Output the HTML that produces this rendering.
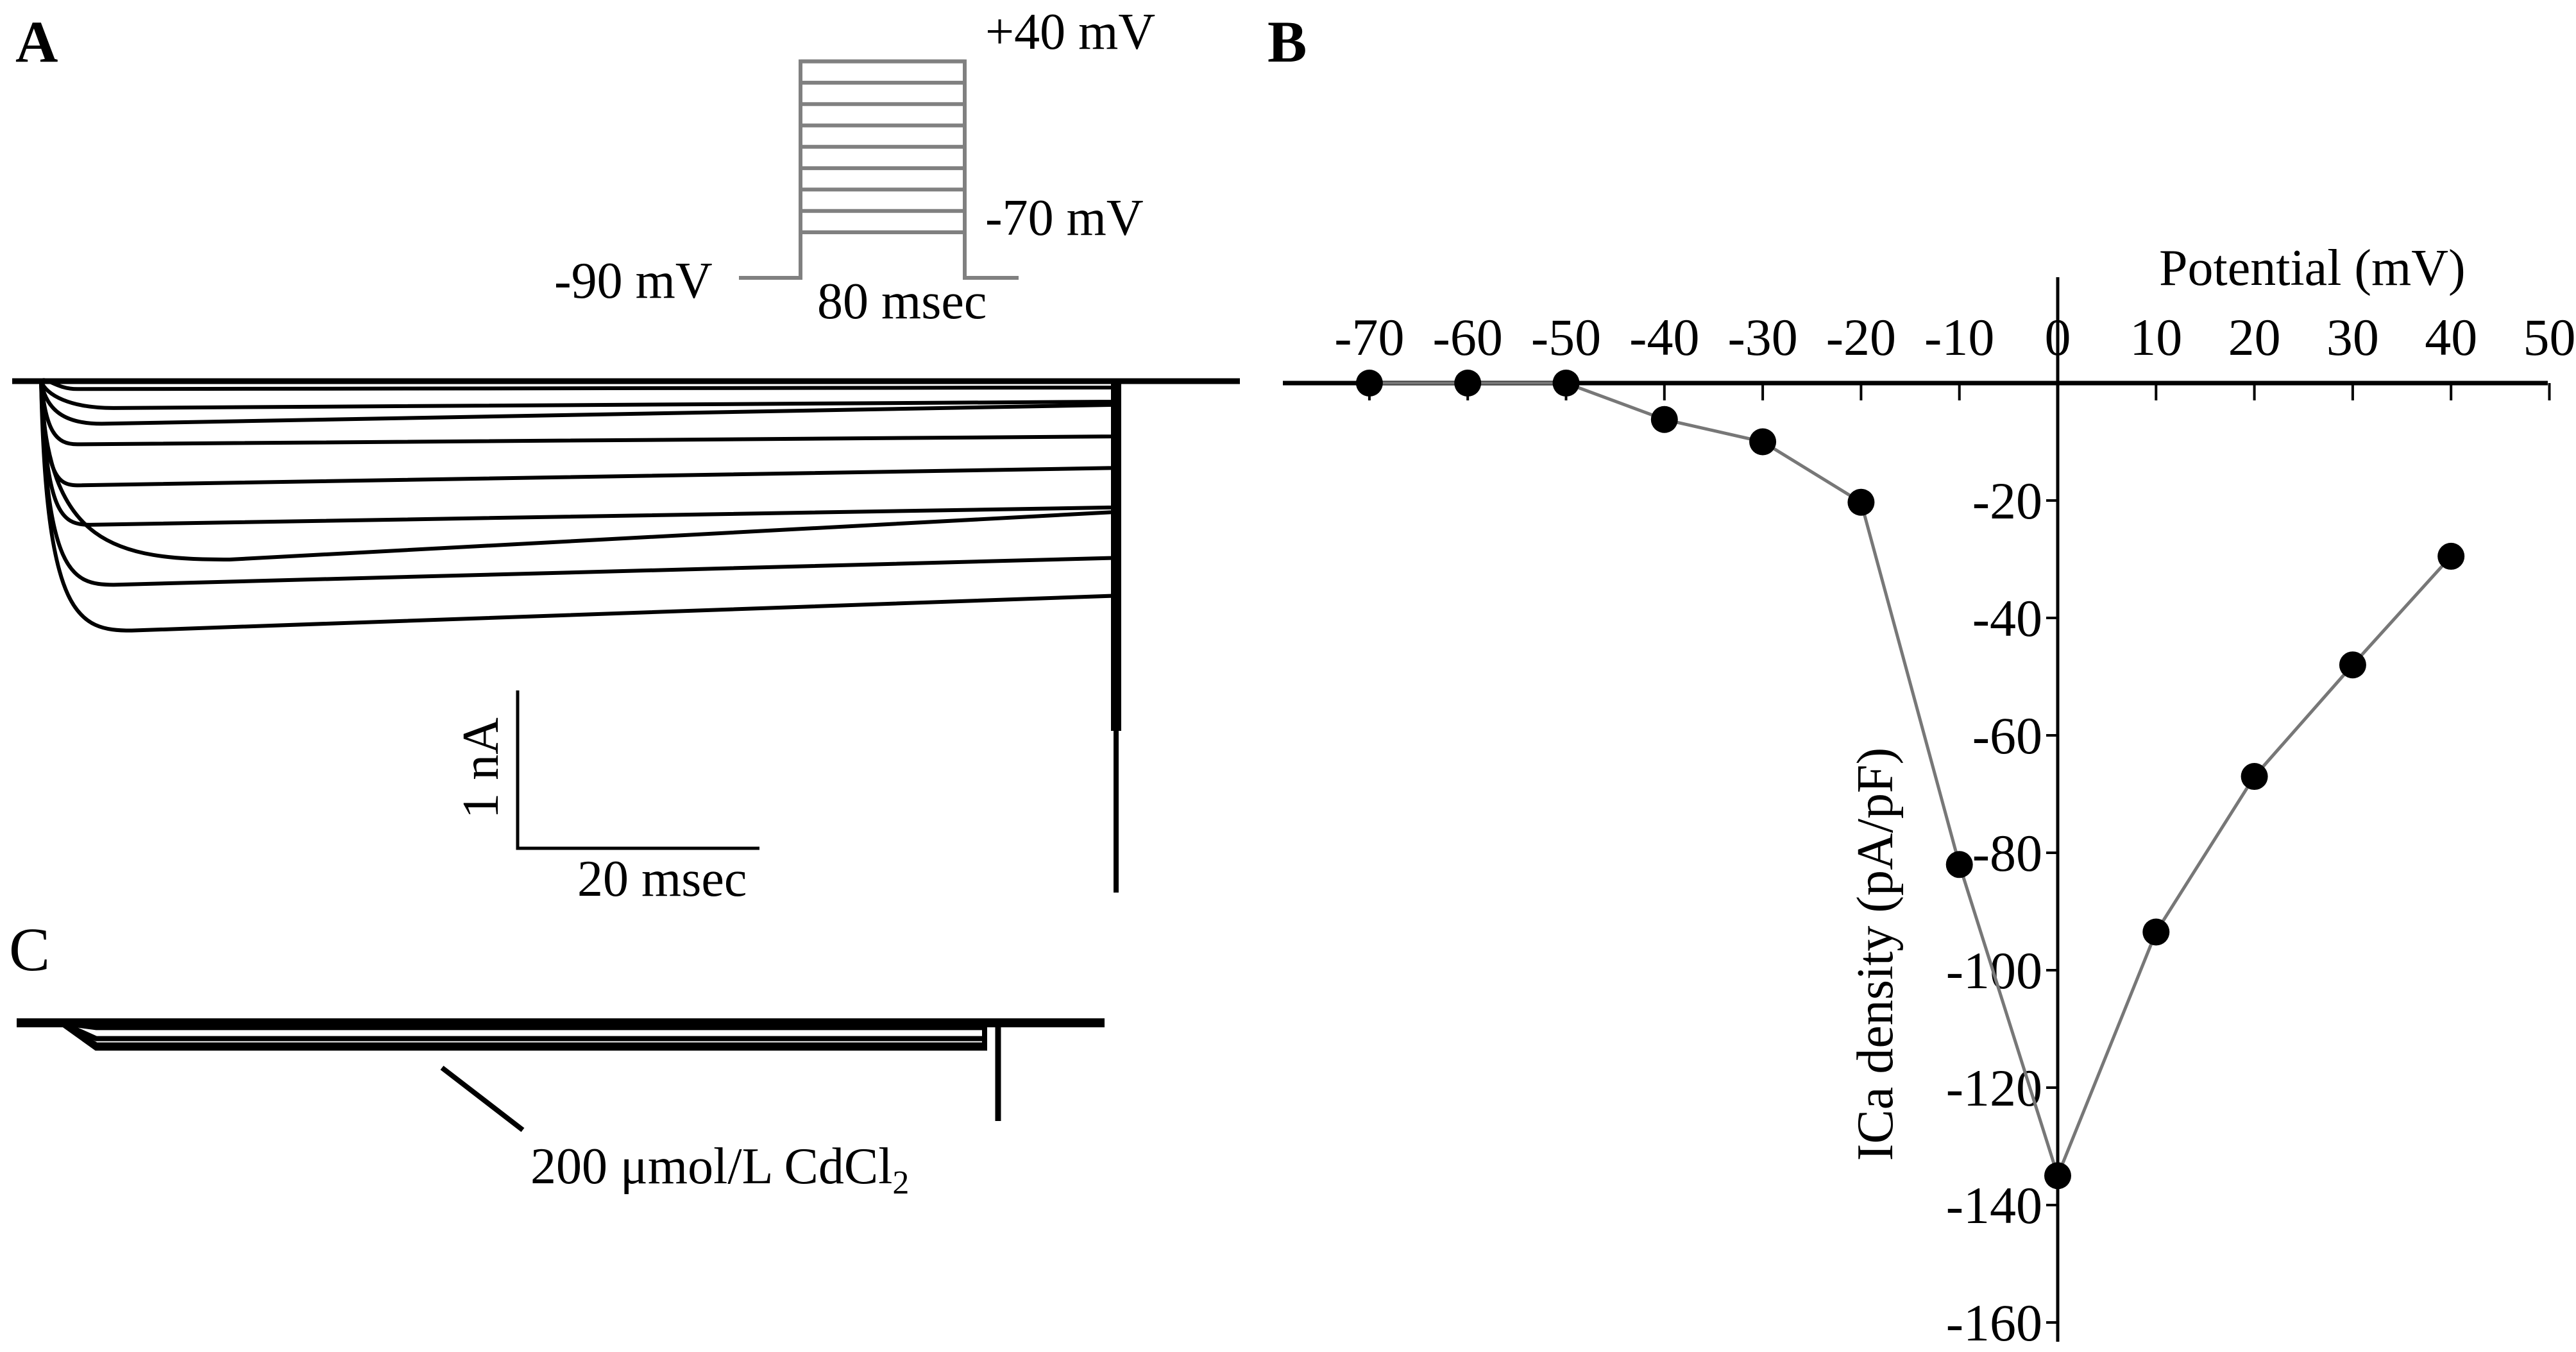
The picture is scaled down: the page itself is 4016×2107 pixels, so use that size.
<!DOCTYPE html>
<html><head><meta charset="utf-8">
<style>
html,body{margin:0;padding:0;background:#fff;}
svg{display:block;}
text{font-family:"Liberation Serif",serif;fill:#000;}
</style></head>
<body>
<svg id="fig" width="4016" height="2107" viewBox="0 0 4016 2107" xmlns="http://www.w3.org/2000/svg">
<g id="panelA">
<text x="24" y="96" font-size="92" font-weight="bold">A</text>
<g id="protocol" stroke="#808080" stroke-width="6" fill="none"></g>
<text x="1536" y="76" font-size="80">+40 mV</text>
<text x="1536" y="366" font-size="80">-70 mV</text>
<text x="864" y="464" font-size="80">-90 mV</text>
<text x="1274" y="496" font-size="80">80 msec</text>
<g id="tracesA"></g>
<path d="M807 1076 V1322 H1184" stroke="#000" stroke-width="5" fill="none"/>
<text transform="translate(776,1197) rotate(-90)" text-anchor="middle" font-size="80">1 nA</text>
<text x="900" y="1396" font-size="80">20 msec</text>
</g>
<g id="panelC">
<text x="14" y="1512" font-size="96">C</text>
<g id="tracesC"></g>
<line x1="689" y1="1664" x2="815" y2="1761" stroke="#000" stroke-width="8"/>
<text x="827" y="1844" font-size="80">200 μmol/L CdCl<tspan font-size="52" dy="16">2</tspan></text>
</g>
<g id="panelB">
<text x="1976" y="96" font-size="92" font-weight="bold">B</text>
<g id="axesB"></g>
<text x="3366" y="444" font-size="80">Potential (mV)</text>
<text transform="translate(2950,1487) rotate(-90)" text-anchor="middle" font-size="80">ICa density (pA/pF)</text>
<g id="seriesB"></g>
</g>
</svg>
<script>
// Panel B data
const potentials = [-70,-60,-50,-40,-30,-20,-10,0,10,20,30,40];
const densities = [0,0,0,-6.2,-10,-20.3,-82,-135,-93.5,-67,-48,-29.5];
const xTicks = [-70,-60,-50,-40,-30,-20,-10,0,10,20,30,40,50];
const yTicks = [-20,-40,-60,-80,-100,-120,-140,-160];
// Panel A data (currents in nA, peak times in ms)
const tracePeaks = [0.05,0.17,0.27,0.40,0.66,0.91,1.13,1.29,1.58];
const traceEnds = [0.04,0.13,0.15,0.35,0.55,0.80,0.83,1.12,1.36];
const tracePeakTimes = [3,6,5,3,3,4,15.6,6,7.5];
const protocolSteps = [40,30,20,10,0,-10,-20,-30,-40];
const NS = 'http://www.w3.org/2000/svg';
function mk(tag, attrs, parent){const e=document.createElementNS(NS,tag);for(const k in attrs)e.setAttribute(k,attrs[k]);parent.appendChild(e);return e;}

// axes B
const X = v => 3208 + v*15.33;
const Y = v => 597 - v*9.15;
const axes = document.getElementById('axesB');
let xl = mk('line',{x1:2000,y1:597,x2:3972,y2:597,stroke:'#000','stroke-width':7},axes);


let yl = mk('line',{x1:3208,y1:432,x2:3208,y2:2091,stroke:'#000','stroke-width':5},axes);


xTicks.forEach(t=>{
  const tk = mk('line',{x1:X(t),y1:597,x2:X(t),y2:624,stroke:'#000','stroke-width':4},axes);
  
  
  const tx = mk('text',{x:X(t),y:553,'text-anchor':'middle','font-size':82},axes);
  
  
  tx.textContent = String(t);
});
yTicks.forEach(t=>{
  const tk = mk('line',{x1:3190,y1:Y(t),x2:3208,y2:Y(t),stroke:'#000','stroke-width':4},axes);
  
  
  const tx = mk('text',{x:3184,y:Y(t)+28,'text-anchor':'end','font-size':82},axes);
  
  
  tx.textContent = String(t);
});
const ser = document.getElementById('seriesB');
const pts = potentials.map((p,i)=>X(p)+','+Y(densities[i])).join(' ');
const pl = mk('polyline',{points:pts,fill:'none',stroke:'#777','stroke-width':5},ser);


potentials.forEach((p,i)=>{
  const c = mk('circle',{cx:X(p),cy:Y(densities[i]),r:21,fill:'#000'},ser);
  
  
});

// protocol
const prot = document.getElementById('protocol');
const VY = v => 362 - (v+40)*3.33;
const outline = mk('path',{d:`M1152 433 H1248 V${VY(40)} H1504 V433 H1588`},prot);


protocolSteps.forEach(v=>{
  const l = mk('line',{x1:1248,y1:VY(v),x2:1504,y2:VY(v)},prot);
  
  
});

// traces A
const TA = document.getElementById('tracesA');
const base = 594, x0 = 64, xEnd = 1735, pxPerMs = 18.85, pxPerNa = 246;
const bl = mk('line',{x1:19,y1:base,x2:1933,y2:base,stroke:'#000','stroke-width':9},TA);


tracePeaks.forEach((pk,i)=>{
  const py = base + pk*pxPerNa, ey = base + traceEnds[i]*pxPerNa;
  const px = x0 + tracePeakTimes[i]*pxPerMs;
  const d = `M${x0} ${base} C${x0+8} ${py-20} ${x0+(px-x0)*0.4} ${py} ${px} ${py} L${xEnd} ${ey} V${base}`;
  const p = mk('path',{d:d,fill:'none',stroke:'#000','stroke-width':6},TA);
  
  
});
const art = mk('rect',{x:1732,y:base,width:16,height:545,fill:'#000'},TA);


const art2 = mk('line',{x1:1740,y1:base,x2:1740,y2:1391,stroke:'#000','stroke-width':8},TA);



// traces C
const cdLevels = [0.00,0.03,0.10,0.14,0.16];
const TC = document.getElementById('tracesC');
const cb = 1594;
const cbl = mk('line',{x1:26,y1:cb,x2:1722,y2:cb,stroke:'#000','stroke-width':14},TC);


cdLevels.forEach(v=>{
  const y = cb + v*pxPerNa;
  const p = mk('path',{d:`M95 ${cb} L150 ${y} H1535 V${cb}`,fill:'none',stroke:'#000','stroke-width':8},TC);
  
  
});
const ca = mk('line',{x1:1556,y1:cb,x2:1556,y2:1747,stroke:'#000','stroke-width':9},TC);


</script>
</body></html>
